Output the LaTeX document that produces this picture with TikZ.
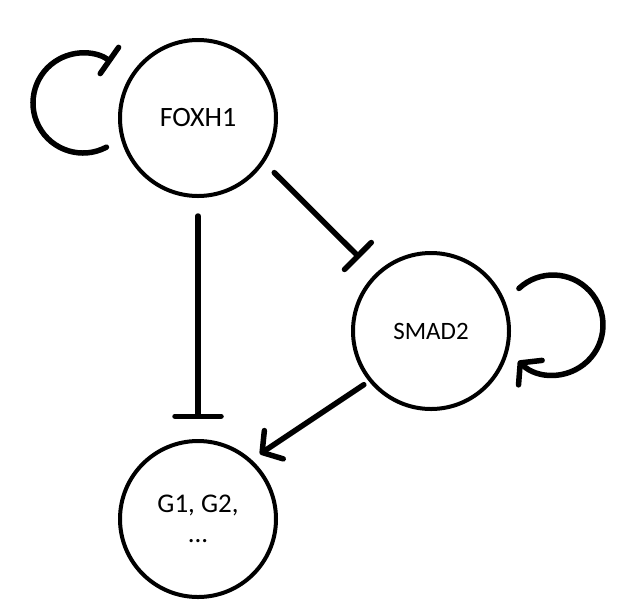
\documentclass[tikz,border=0pt]{standalone}
\usepackage{fontspec}
\setmainfont{Carlito}
\usetikzlibrary{arrows.meta}
\begin{document}
\begin{tikzpicture}[x=1pt,y=1pt,
  gene/.style={circle, draw, line width=4pt, minimum size=156pt, inner sep=0pt, align=center},
  edge/.style={line width=5.5pt, line cap=round},
  inh/.style={edge, -{Bar[width=#1, line width=5.5pt, round]}},
  inh/.default=34pt,
  act/.style={edge, -{Straight Barb[length=14pt, width=34pt, line width=5.5pt, round]}}]
\useasboundingbox (0,0) rectangle (636,-606);
\node[gene, font=\fontsize{28}{34}\selectfont] (f) at (198,-118) {FOXH1};
\node[gene, font=\fontsize{25}{30}\selectfont] (s) at (431,-331) {SMAD2};
\node[gene, font=\fontsize{27}{30}\selectfont] (g) at (198,-519) {G1, G2,\\...};
\draw[inh=38pt, shorten <=14pt, shorten >=22pt] (f.-34) -- (s.134);
\draw[inh=46pt, shorten <=18pt, shorten >=20pt] (f.south) -- (g.north);
\draw[act, shorten <=6pt, shorten >=10pt] (s.219) -- (g.48);
\draw[inh=32pt] ({83+50*cos(-62)},{-103+50*sin(-62)}) arc[start angle=-62, end angle=-305, radius=50];
\draw[act] ({553+50*cos(133)},{-325+50*sin(133)}) arc[start angle=133, end angle=-134, radius=50];
\end{tikzpicture}
\end{document}
